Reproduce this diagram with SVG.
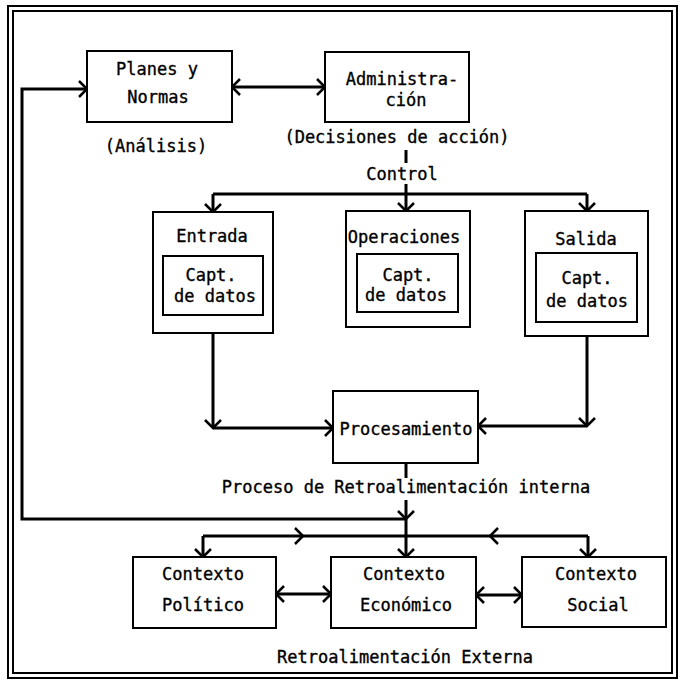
<svg xmlns="http://www.w3.org/2000/svg" width="680" height="681" viewBox="0 0 680 681">
<style>
.frame{fill:none;stroke:#000;stroke-width:2}
.box{fill:#fff;stroke:#000;stroke-width:2}
.t{font-family:"DejaVu Sans Mono","Liberation Mono",monospace;font-size:17px;fill:#000;stroke:#000;stroke-width:0.35;text-anchor:middle}
.c{fill:none;stroke:#000;stroke-width:3}
.ch{fill:none;stroke:#000;stroke-width:2.5}
</style>
<defs>
<marker id="arr" markerUnits="userSpaceOnUse" viewBox="-11 -11 13 22" refX="0" refY="0" markerWidth="13" markerHeight="22" orient="auto-start-reverse">
<path d="M-8,-8 L0,0 L-8,8" fill="none" stroke="#000" stroke-width="2.5"/>
</marker>
</defs>
<rect width="680" height="681" fill="#fff"/>
<rect class="frame" x="8" y="6" width="669" height="672"/>
<rect class="frame" x="13" y="11" width="659" height="662"/>

<g id="connectors">
<path class="c" d="M232,87 H325" marker-start="url(#arr)" marker-end="url(#arr)"/>
<path class="c" d="M406,519 H22 V89 H87" marker-end="url(#arr)"/>
<path class="c" d="M406,150 V163"/>
<path class="c" d="M406,184 V194"/>
<path class="c" d="M213,194 H587"/>
<path class="c" d="M213,194 V212" marker-end="url(#arr)"/>
<path class="c" d="M406,194 V211" marker-end="url(#arr)"/>
<path class="c" d="M587,194 V211" marker-end="url(#arr)"/>
<path class="c" d="M213,333 V428" marker-end="url(#arr)"/>
<path class="c" d="M213,428 H333" marker-end="url(#arr)"/>
<path class="c" d="M587,336 V426" marker-end="url(#arr)"/>
<path class="c" d="M587,426 H478" marker-end="url(#arr)"/>
<path class="c" d="M406,463 V478"/>
<path class="c" d="M406,500 V519" marker-end="url(#arr)"/>
<path class="c" d="M406,519 V557" marker-end="url(#arr)"/>
<path class="c" d="M203,536 H588"/>
<polyline class="ch" points="295,528 303,536 295,544"/>
<polyline class="ch" points="498,528 490,536 498,544"/>
<path class="c" d="M203,536 V557" marker-end="url(#arr)"/>
<path class="c" d="M588,536 V557" marker-end="url(#arr)"/>
<path class="c" d="M276,594 H331" marker-start="url(#arr)" marker-end="url(#arr)"/>
<path class="c" d="M476,595 H522" marker-start="url(#arr)" marker-end="url(#arr)"/>
</g>

<g id="planes">
<rect class="box" x="87" y="51" width="145" height="71"/>
<text class="t" x="157" y="75">Planes y</text>
<text class="t" x="158" y="103">Normas</text>
<text class="t" x="156" y="152">(Análisis)</text>
</g>
<g id="administracion">
<rect class="box" x="325" y="52" width="144" height="70"/>
<text class="t" x="402" y="85">Administra-</text>
<text class="t" x="406" y="106">ción</text>
<text class="t" x="397" y="143">(Decisiones de acción)</text>
<text class="t" x="402" y="180">Control</text>
</g>
<g id="entrada">
<rect class="box" x="153" y="212" width="120" height="121"/>
<text class="t" x="212" y="242">Entrada</text>
<rect class="box" x="163" y="256" width="100" height="59"/>
<text class="t" x="211" y="281">Capt.</text>
<text class="t" x="215" y="302">de datos</text>
</g>
<g id="operaciones">
<rect class="box" x="346" y="211" width="124" height="116"/>
<text class="t" x="404" y="243">Operaciones</text>
<rect class="box" x="357" y="254" width="101" height="58"/>
<text class="t" x="408" y="281">Capt.</text>
<text class="t" x="406" y="301">de datos</text>
</g>
<g id="salida">
<rect class="box" x="525" y="211" width="123" height="125"/>
<text class="t" x="586" y="245">Salida</text>
<rect class="box" x="536" y="253" width="101" height="69"/>
<text class="t" x="587" y="284">Capt.</text>
<text class="t" x="587" y="307">de datos</text>
</g>
<g id="procesamiento">
<rect class="box" x="333" y="391" width="145" height="72"/>
<text class="t" x="406" y="435">Procesamiento</text>
<text class="t" x="406" y="493">Proceso de Retroalimentación interna</text>
</g>
<g id="politico">
<rect class="box" x="133" y="557" width="143" height="71"/>
<text class="t" x="203" y="580">Contexto</text>
<text class="t" x="203" y="611">Político</text>
</g>
<g id="economico">
<rect class="box" x="331" y="557" width="145" height="71"/>
<text class="t" x="404" y="580">Contexto</text>
<text class="t" x="406" y="611">Económico</text>
</g>
<g id="social">
<rect class="box" x="522" y="557" width="144" height="70"/>
<text class="t" x="596" y="580">Contexto</text>
<text class="t" x="598" y="611">Social</text>
</g>
<g id="externa">
<text class="t" x="405" y="663">Retroalimentación Externa</text>
</g>
</svg>
